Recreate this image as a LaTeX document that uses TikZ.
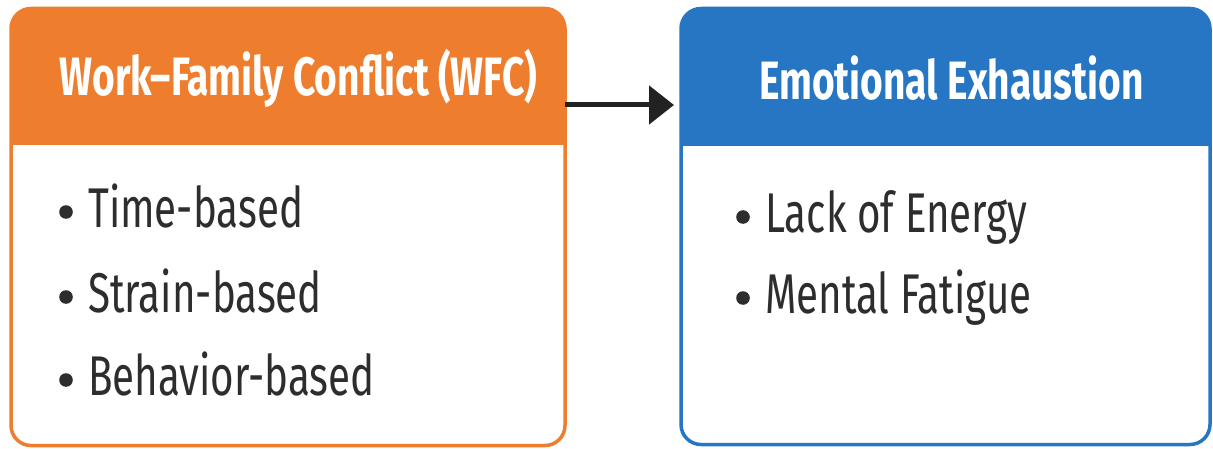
\documentclass[tikz,border=0pt]{standalone}
\usepackage{fontspec}
\setmainfont{Fira Sans}
\newfontfamily\bodyfont[FakeStretch=0.72]{Fira Sans}
\newfontfamily\titlefont[FakeStretch=0.72]{Fira Sans}
\usetikzlibrary{arrows.meta}
\definecolor{wfcorange}{RGB}{238,126,46}
\definecolor{eeblue}{RGB}{38,118,196}
\definecolor{bodytext}{RGB}{45,45,45}
\tikzset{
  x=1pt, y=1pt,
  panel/.style={rectangle, rounded corners=20pt, fill=white, outer sep=0pt, inner sep=0pt},
  headtitle/.style={text=white, font=\titlefont\bfseries\fontsize{54}{60}\selectfont, inner sep=0pt},
  item/.style={anchor=base west, text=bodytext, font=\bodyfont\fontsize{56}{64}\selectfont, inner sep=0pt},
  bulletdot/.style={fill=bodytext},
  link/.style={line width=5pt, draw={rgb,255:red,34;green,34;blue,34}, -{Triangle[length=25pt,width=38pt]}}
}
\begin{document}
\begin{tikzpicture}
\useasboundingbox (0,0) rectangle (1213,448);
% left panel
\node[panel, minimum width=554pt, minimum height=437pt] (wfc) at (288,221) {};
\begin{scope}
  \clip[rounded corners=20pt] (wfc.south west) rectangle (wfc.north east);
  \fill[wfcorange] (wfc.north west) rectangle ([yshift=303pt]wfc.south east |- 0,0);
\end{scope}
\draw[wfcorange, line width=3.5pt, rounded corners=20pt] (wfc.south west) rectangle (wfc.north east);
% right panel
\node[panel, minimum width=529pt, minimum height=436pt] (ee) at (945.5,221.5) {};
\begin{scope}
  \clip[rounded corners=20pt] (ee.south west) rectangle (ee.north east);
  \fill[eeblue] (ee.north west) rectangle ([yshift=302pt]ee.south east |- 0,0);
\end{scope}
\draw[eeblue, line width=3.5pt, rounded corners=20pt] (ee.south west) rectangle (ee.north east);
% titles
\node[headtitle] (wfctitle) at (298.5,370) {Work–Family Conflict (WFC)};
\node[headtitle] (eetitle) at (951.5,370) {Emotional Exhaustion};
% items
\node[item] (i1) at (88,221) {Time-based};
\node[item] (i2) at (88,136) {Strain-based};
\node[item] (i3) at (88,53) {Behavior-based};
\node[item] (j1) at (765,216) {Lack of Energy};
\node[item] (j2) at (765,135) {Mental Fatigue};
% bullets
\foreach \n in {i1,i2,i3,j1,j2}
  \fill[bulletdot] ([xshift=-22pt,yshift=15pt]\n.base west) circle (6.8pt);
% connector
\coordinate (a0) at (wfc.east |- 0,343);
\coordinate (a1) at ([xshift=-7pt]ee.west |- 0,343);
\draw[link] (a0) -- (a1);
\end{tikzpicture}
\end{document}
